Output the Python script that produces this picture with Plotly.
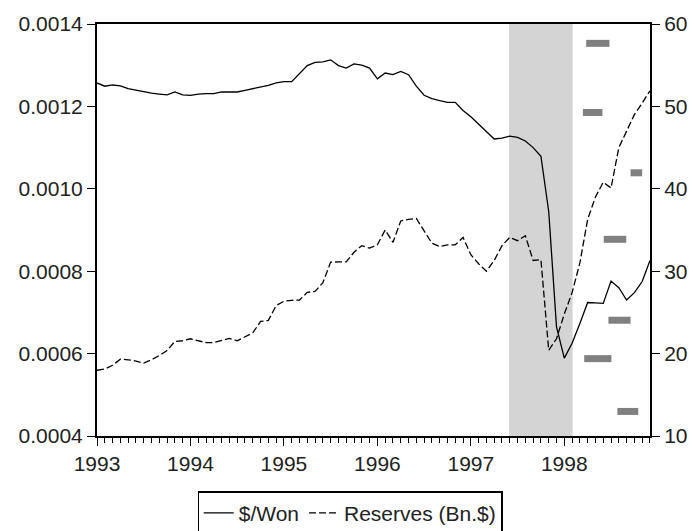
import plotly.graph_objects as go

# Monthly observations 1993M01 .. 1998M12
start_year = 1993
won = [
    0.001257, 0.001249, 0.001252, 0.001250, 0.001243, 0.001239, 0.001235, 0.001232, 0.001230, 0.001228, 0.001235, 0.001228,  # 1993
    0.001227, 0.001230, 0.001231, 0.001231, 0.001235, 0.001235, 0.001235, 0.001239, 0.001243, 0.001247, 0.001251, 0.001257,  # 1994
    0.001260, 0.001260, 0.001280, 0.001299, 0.001307, 0.001308, 0.001313, 0.001299, 0.001293, 0.001303, 0.001300, 0.001293,  # 1995
    0.001267, 0.001281, 0.001277, 0.001285, 0.001277, 0.001249, 0.001227, 0.001219, 0.001214, 0.001210, 0.001210, 0.001190,  # 1996
    0.001175, 0.001157, 0.001140, 0.001121, 0.001123, 0.001128, 0.001125, 0.001116, 0.001100, 0.001079, 0.000945, 0.000665,  # 1997
    0.000589, 0.000625, 0.000673, 0.000724, 0.000723, 0.000722, 0.000776, 0.000760, 0.000730, 0.000748, 0.000775, 0.000826,  # 1998
]
reserves = [
    17.98, 18.13, 18.58, 19.33, 19.25, 19.10, 18.85, 19.25, 19.77, 20.37, 21.48, 21.56,  # 1993
    21.80, 21.56, 21.33, 21.33, 21.56, 21.84, 21.56, 22.04, 22.52, 23.90, 24.03, 25.83,  # 1994
    26.35, 26.47, 26.50, 27.43, 27.55, 28.60, 31.10, 31.13, 31.13, 32.30, 33.10, 32.80,  # 1995
    33.20, 35.00, 33.50, 36.10, 36.30, 36.40, 34.90, 33.40, 33.00, 33.20, 33.20, 34.10,  # 1996
    32.00, 30.90, 30.00, 31.30, 33.10, 34.10, 33.70, 34.30, 31.30, 31.40, 20.40, 21.80,  # 1997
    24.80, 27.40, 31.00, 36.30, 39.00, 40.80, 40.10, 45.00, 47.00, 49.00, 50.40, 51.90,  # 1998
]
years = [1993, 1994, 1995, 1996, 1997, 1998]
won_ticks = [0.0004, 0.0006, 0.0008, 0.0010, 0.0012, 0.0014]
res_ticks = [10, 20, 30, 40, 50, 60]

# crisis shading (decimal years)
shade_start = 1997.409
shade_end = 1998.089

# short grey marks (decimal-year start, end, right-axis level)
mark_x0 = [1998.234, 1998.199, 1998.709, 1998.422, 1998.472, 1998.213, 1998.568]
mark_x1 = [1998.483, 1998.408, 1998.833, 1998.663, 1998.709, 1998.504, 1998.791]
mark_y = [57.65, 49.26, 41.94, 33.87, 24.05, 19.39, 12.98]

x = [start_year + i / 12 for i in range(len(won))]

FONT = "Liberation Sans, Arial, sans-serif"

fig = go.Figure()

mx, my = [], []
for a, b, v in zip(mark_x0, mark_x1, mark_y):
    mx += [a, b, None]
    my += [v, v, None]
fig.add_trace(go.Scatter(x=mx, y=my, yaxis="y2", mode="lines",
                         line=dict(color="#808080", width=7),
                         showlegend=False, hoverinfo="skip"))

fig.add_trace(go.Scatter(x=x, y=won, name="$/Won", mode="lines",
                         line=dict(color="black", width=1.3)))
fig.add_trace(go.Scatter(x=x, y=reserves, name="Reserves (Bn.$)", yaxis="y2",
                         mode="lines",
                         line=dict(color="black", width=1.3, dash="7px,3px")))

fig.add_shape(type="rect", xref="x", yref="paper", x0=shade_start, x1=shade_end,
              y0=0, y1=1, fillcolor="#d4d4d4", line=dict(width=0), layer="below")

fig.update_layout(
    width=700, height=531,
    margin=dict(l=97, r=46, t=16, b=95),
    paper_bgcolor="white", plot_bgcolor="white",
    font=dict(family=FONT, size=21, color="#222"),
    showlegend=True,
    legend=dict(orientation="h", xref="container", yref="container",
                x=0.5, xanchor="center", y=0.034, yanchor="middle",
                bordercolor="black", borderwidth=1.2,
                font=dict(family=FONT, size=21, color="#222"),
                itemwidth=30, tracegroupgap=0),
    xaxis=dict(range=[1993, 1998.917], tickvals=years,
               ticktext=[str(y) for y in years],
               ticks="outside", ticklen=8, tickwidth=1, tickcolor="black",
               minor=dict(dtick=1 / 12, tick0=1993, ticks="outside", ticklen=5,
                          tickwidth=1, tickcolor="black", showgrid=False),
               showline=True, linecolor="black", linewidth=2, mirror=True,
               showgrid=False, zeroline=False),
    yaxis=dict(range=[0.0004, 0.0014], tickvals=won_ticks, tickformat=".4f",
               ticks="outside", ticklen=8, tickwidth=1, tickcolor="black",
               showline=True, linecolor="black", linewidth=2,
               showgrid=False, zeroline=False),
    yaxis2=dict(range=[10, 60], tickvals=res_ticks, overlaying="y", side="right",
                ticks="outside", ticklen=8, tickwidth=1, tickcolor="black",
                showline=True, linecolor="black", linewidth=2,
                showgrid=False, zeroline=False),
)

fig.write_html("out.html")
